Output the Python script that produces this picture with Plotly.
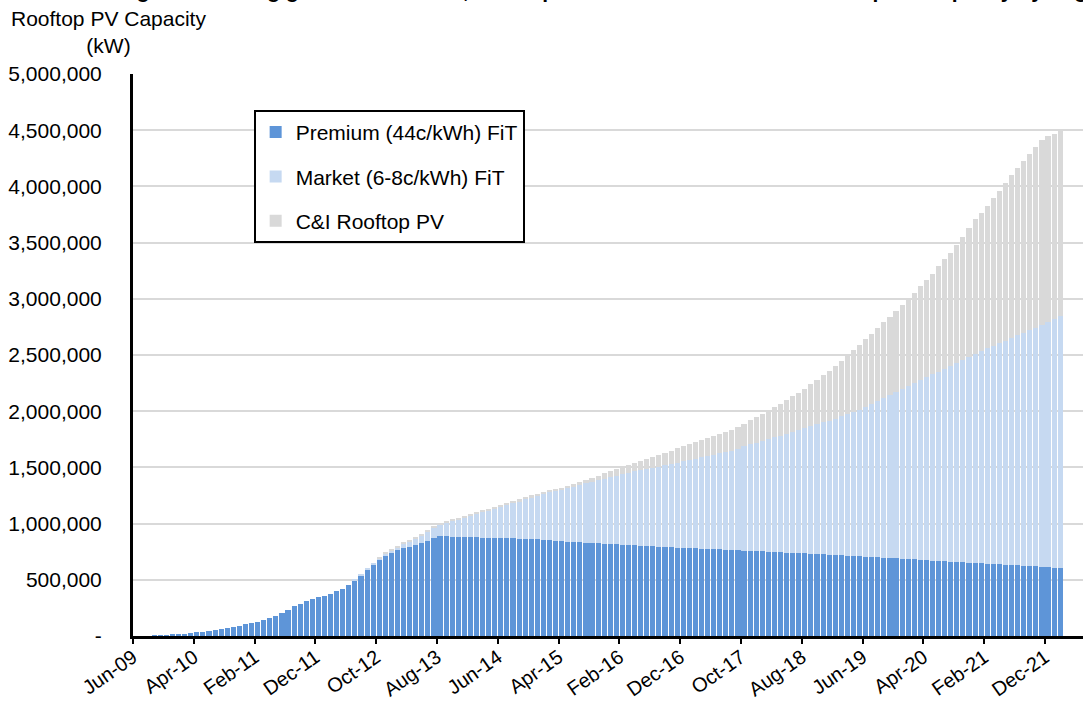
import numpy as np
import pandas as pd
import plotly.graph_objects as go

# Monthly categories Jun-09 .. Feb-22
months = list(pd.date_range("2009-06-01", periods=153, freq="MS").strftime("%b-%y"))
tick_labels = months[::10]

# Rooftop PV capacity by segment (kW) (thousands)
premium_k = [
    0, 0, 0, 1, 3, 6, 12, 18, 22, 27,
    33, 39, 45, 53, 62, 71, 80, 90, 104, 114,
    128, 142, 158, 180, 205, 235, 265, 288, 311, 332,
    344, 357, 376, 396, 418, 454, 498, 538, 594, 638,
    680, 720, 741, 762, 782, 796, 810, 830, 848, 870,
    889, 886, 884, 883, 881, 880, 878, 876, 875, 874,
    872, 870, 868, 866, 864, 862, 860, 858, 855, 847,
    844, 840, 836, 833, 830, 827, 824, 821, 818, 815,
    812, 809, 806, 803, 800, 797, 794, 791, 788, 785,
    784, 782, 780, 778, 775, 773, 770, 767, 764, 761,
    759, 757, 755, 753, 750, 748, 745, 742, 740, 737,
    735, 732, 729, 726, 723, 720, 717, 714, 711, 708,
    705, 702, 699, 696, 693, 690, 687, 684, 681, 677,
    674, 671, 668, 665, 662, 659, 656, 653, 650, 647,
    644, 641, 638, 635, 632, 629, 626, 623, 620, 617,
    613, 609, 605,
]
market_k = [
    0, 0, 0, 0, 0, 0, 0, 0, 0, 0,
    0, 0, 0, 0, 0, 0, 0, 0, 0, 0,
    0, 0, 0, 0, 0, 0, 0, 0, 0, 0,
    0, 0, 0, 0, 0, 0, 2, 5, 9, 12,
    13, 15, 17, 27, 39, 47, 53, 65, 80, 98,
    107, 125, 145, 157, 176, 193, 211, 228, 244, 261,
    282, 300, 317, 335, 356, 374, 391, 410, 427, 444,
    460, 477, 494, 511, 528, 545, 562, 579, 596, 612,
    628, 643, 658, 672, 686, 700, 714, 728, 742, 756,
    770, 784, 798, 812, 826, 840, 855, 870, 885, 900,
    930, 948, 966, 984, 1002, 1020, 1038, 1057, 1076, 1096,
    1116, 1135, 1154, 1174, 1194, 1214, 1236, 1258, 1280, 1302,
    1330, 1358, 1388, 1418, 1448, 1478, 1508, 1538, 1568, 1598,
    1627, 1656, 1685, 1714, 1743, 1772, 1801, 1830, 1860, 1889,
    1915, 1941, 1967, 1993, 2019, 2045, 2071, 2097, 2122, 2150,
    2180, 2212, 2245,
]
ci_k = [
    0, 0, 0, 0, 0, 0, 0, 0, 0, 0,
    0, 0, 0, 0, 0, 0, 0, 0, 0, 0,
    0, 0, 0, 0, 0, 0, 0, 0, 0, 0,
    0, 0, 0, 0, 0, 0, 0, 0, 0, 0,
    8, 9, 9, 10, 10, 10, 10, 10, 10, 10,
    11, 11, 11, 11, 12, 12, 12, 12, 13, 13,
    13, 13, 14, 14, 14, 15, 15, 15, 11, 14,
    17, 21, 25, 29, 33, 37, 41, 46, 50, 55,
    60, 67, 74, 81, 88, 96, 104, 112, 120, 128,
    136, 142, 148, 154, 160, 167, 174, 181, 188, 195,
    201, 213, 226, 240, 254, 268, 283, 298, 315, 332,
    349, 372, 396, 420, 444, 470, 496, 523, 551, 580,
    604, 628, 652, 676, 700, 724, 750, 776, 801, 835,
    869, 893, 937, 971, 1005, 1049, 1093, 1147, 1200, 1224,
    1271, 1318, 1355, 1402, 1449, 1486, 1533, 1570, 1608, 1643,
    1657, 1649, 1640,
]

y_tick_vals = [0, 500000, 1000000, 1500000, 2000000, 2500000,
               3000000, 3500000, 4000000, 4500000, 5000000]
y_tick_text = ["-", "500,000", "1,000,000", "1,500,000", "2,000,000", "2,500,000",
               "3,000,000", "3,500,000", "4,000,000", "4,500,000", "5,000,000"]

series_names = ["Premium (44c/kWh) FiT", "Market (6-8c/kWh) FiT", "C&I Rooftop PV"]
series_colors = ["#5E95D8", "#C6D9F1", "#D9D9D9"]

FONT = "Arial, Liberation Sans, sans-serif"
FS = 21
x = np.arange(len(months)) + 0.5

fig = go.Figure()
for rank, (name, vals, col) in enumerate(zip(series_names, [premium_k, market_k, ci_k], series_colors)):
    fig.add_trace(go.Bar(
        x=x, y=np.array(vals) * 1000, name=name, marker=dict(color=col, line=dict(width=0)),
        customdata=months, hovertemplate="%{customdata}: %{y:,.0f} kW<extra></extra>",
        legendgroup=name, legendrank=rank + 1,
    ))

fig.update_layout(
    width=1083, height=702,
    margin=dict(l=133, r=0, t=74, b=66, autoexpand=False),
    barmode="stack", bargap=0.16,
    plot_bgcolor="white", paper_bgcolor="white",
    font=dict(family=FONT, size=FS, color="black"),
    showlegend=True,
    legend=dict(
        x=0.127, y=0.936, xanchor="left", yanchor="top",
        bordercolor="black", borderwidth=2, bgcolor="white",
        font=dict(size=FS, family=FONT, color="black"),
        traceorder="grouped", tracegroupgap=14,
        itemwidth=30,
    ),
    xaxis=dict(
        range=[0, 156.25], automargin=False,
        tickmode="array", tickvals=np.arange(0, len(months), 10), ticktext=tick_labels,
        tickangle=-35, ticks="outside", ticklen=5, tickwidth=2, tickcolor="black",
        showline=True, linecolor="black", linewidth=3,
        showgrid=False, zeroline=False,
        tickfont=dict(size=20, family=FONT, color="black"),
        ticklabelstandoff=-6,
    ),
    yaxis=dict(
        range=[0, 5000000], automargin=False,
        tickmode="array", tickvals=y_tick_vals, ticktext=y_tick_text,
        showline=True, linecolor="black", linewidth=3,
        showgrid=True, gridcolor="#D9D9D9", gridwidth=1.5,
        zeroline=False, ticks="",
        tickfont=dict(size=FS, family=FONT, color="black"),
        ticklabelstandoff=24,
    ),
    annotations=[
        dict(text="Rooftop PV Capacity<br>(kW)", xref="paper", yref="paper",
             x=-0.026, y=(636 - 5) / 562, xanchor="center", yanchor="top", align="center",
             showarrow=False, font=dict(size=FS, family=FONT, color="black")),
        dict(text="<b>Figure 1: Strong growth in Victoria, mix of premium and market FiT - Rooftop PV Capacity by Segment</b>",
             xref="paper", yref="paper", x=0.52, y=(636 - 4) / 562, xanchor="center", yanchor="bottom",
             showarrow=False, font=dict(size=FS, family=FONT, color="black")),
    ],
)

fig.write_html("out.html")
